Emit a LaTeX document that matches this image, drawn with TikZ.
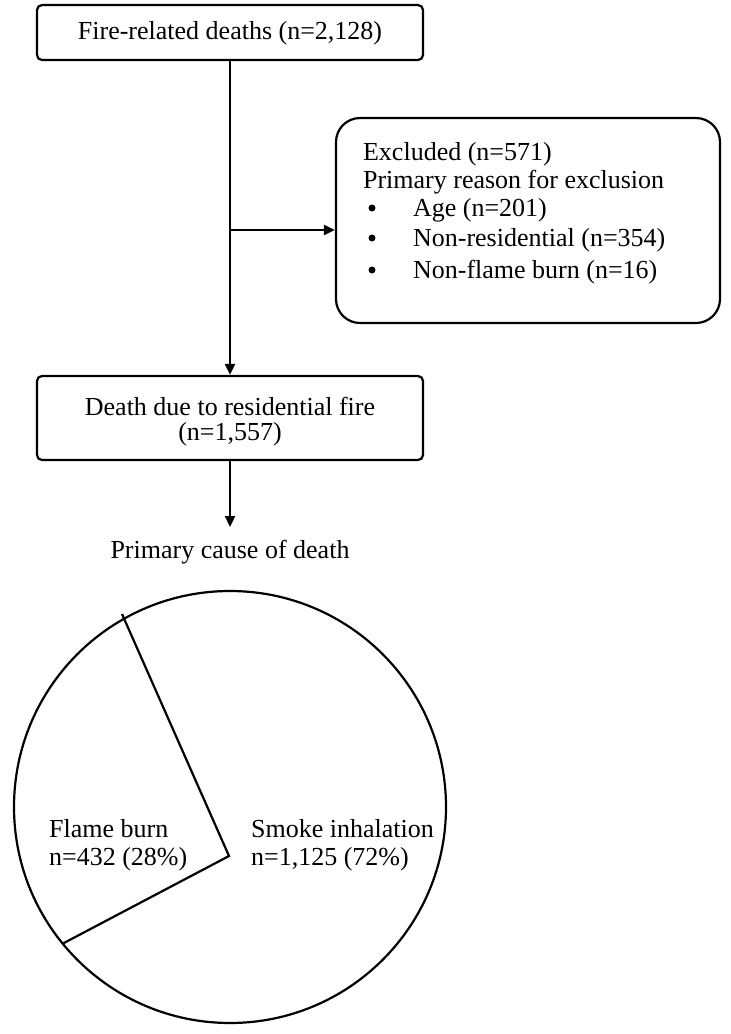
\documentclass[tikz,border=0pt]{standalone}
\usepackage{fontspec}
\setmainfont{Liberation Serif}
\newfontfamily\djv{DejaVu Sans}
\usetikzlibrary{arrows.meta}
\begin{document}
\begin{tikzpicture}[x=1pt,y=-1pt,line width=2.2pt,
  box/.style={draw,rounded corners=5pt},
  txt/.style={font=\fontsize{26}{30}\selectfont,inner sep=0pt},
  arr/.style={-{Triangle[length=11pt,width=10pt]}}]
\useasboundingbox (0,0) rectangle (731,1034);
\node[box,minimum width=386pt,minimum height=55pt] (b1) at (230,32.5) {};
\node[txt] (t1) at (230,33) {Fire-related deaths (n=2,128)};
\node[draw,rounded corners=24pt,minimum width=384pt,minimum height=205pt] (ex) at (528,220.5) {};
\node[txt,anchor=base west] (e1) at (362,160) {Excluded (n=571)};
\node[txt,anchor=base west] (e2) at (362,188) {Primary reason for exclusion};
\foreach \y/\s [count=\i] in {216/Age (n=201),246/Non-residential (n=354),278/Non-flame burn (n=16)}{
  \fill (372,\y-8) circle (3.5pt);
  \node[txt,anchor=base west] (l\i) at (412,\y) {\s};
}
\node[box,minimum width=386pt,minimum height=84pt] (b2) at (230,418) {};
\node[txt] (t2a) at (230,406) {Death due to residential fire};
\node[txt] (t2b) at (230,434) {(n=1,557)};
\coordinate (br) at (230,230);
\draw[arr] (b1.south) -- (b2.north);
\draw[arr] (br) -- (ex.west |- br);
\coordinate (pend) at (230,527);
\draw[arr] (b2.south) -- (pend);
\node[txt] (pc) at (230,552) {Primary cause of death};
\node[draw,circle,minimum size=432pt,inner sep=0pt] (pie) at (230,807) {};
\coordinate (v) at (229,856);
\draw (122,614) -- (v) -- (62,944);
\node[txt,anchor=base west] (f1) at (48,837) {Flame burn};
\node[txt,anchor=base west] (f2) at (48,865) {n=432 (28\%)};
\node[txt,anchor=base west] (s1) at (250,837) {Smoke inhalation};
\node[txt,anchor=base west] (s2) at (250,865) {n=1,125 (72\%)};
\end{tikzpicture}
\end{document}
